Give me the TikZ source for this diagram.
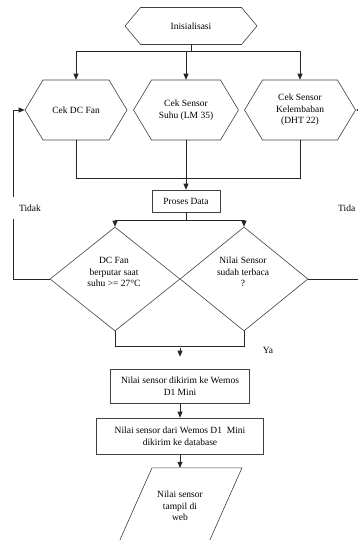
\documentclass[tikz,border=0pt]{standalone}
\usepackage{fontspec}
\setmainfont{Liberation Serif}
\usetikzlibrary{calc}
\usetikzlibrary{arrows.meta}
\usetikzlibrary{shapes.symbols, shapes.geometric}

\begin{document}
\begin{tikzpicture}[x=1pt, y=-1pt, font=\fontsize{9.5}{11.5}\selectfont,
  hexa/.style={signal, signal to=east and west, draw=black!75, line width=0.6pt, inner sep=0pt, align=center},
  proc/.style={rectangle, draw=black!75, line width=0.6pt, inner sep=0pt, align=center},
  decision/.style={diamond, draw=black!75, line width=0.6pt, inner sep=0pt},
  box/.style={draw=black!75, line width=0.6pt},
  lbl/.style={fill=white, inner sep=0pt},
  line/.style={line width=0.8pt, black!85},
  arrow/.style={-{Triangle[length=6pt,width=5pt]}}]
\useasboundingbox (0,0) rectangle (358,540);
\clip (0,0) rectangle (358,540);

\node[hexa, signal pointer angle=100, minimum width=132pt, minimum height=37pt] (init) at (191,26) {Inisialisasi};

\node[hexa, signal pointer angle=118, minimum width=102pt, minimum height=60pt] (fan) at (76,110) {Cek DC Fan};
\node[hexa, signal pointer angle=118, minimum width=105pt, minimum height=60pt] (lm) at (186,110) {Cek Sensor\\Suhu (LM 35)};
\node[hexa, signal pointer angle=118, minimum width=111pt, minimum height=60pt] (dht) at (300,110) {Cek Sensor\\Kelembaban\\(DHT 22)};

\node[proc, minimum width=68pt, minimum height=22pt] (proses) at (186,201) {Proses Data};

\node[decision, minimum width=130pt, minimum height=104pt] (fancek) at (115,279) {};
\node[align=center, inner sep=0pt] (fancektxt) at (114,272) {DC Fan\\berputar saat\\suhu >= 27°C};
\node[decision, minimum width=128pt, minimum height=104pt] (sensorcek) at (244,279) {};
\node[align=center, inner sep=0pt] (sensorcektxt) at (243,272) {Nilai Sensor\\sudah terbaca\\?};

\node[proc, minimum width=139pt, minimum height=34pt] (kirim) at (180,386) {Nilai sensor dikirim ke Wemos\\D1 Mini};
\node[proc, minimum width=167pt, minimum height=36pt] (database) at (180,436) {Nilai sensor dari Wemos D1~ Mini\\dikirim ke database};

\node[align=center, minimum height=76pt, inner sep=0pt] (web) at (180,506) {Nilai sensor\\tampil di\\web};
\draw[box] ($(web.north)+(-28,0)$) -- ($(web.north)+(62,0)$) -- ($(web.south)+(28,0)$) -- ($(web.south)+(-62,0)$) -- cycle;

% inisialisasi ke sensor
\draw[line, arrow] (init.south) -- ++(0,7) -| (fan.north);
\draw[line, arrow] (init.south) -- ++(0,7) -| (lm.north);
\draw[line, arrow] (init.south) -- ++(0,7) -| (dht.north);

\coordinate (gabung) at (186,178);
\draw[line] (fan.south) |- (gabung);
\draw[line] (dht.south) |- (gabung);
\draw[line, arrow] (lm.south) -- (proses.north);

\draw[line, arrow] (proses.south) -- ++(0,8) -| (fancek.north);
\draw[line, arrow] (proses.south) -- ++(0,8) -| (sensorcek.north);

% kembali (tidak)
\draw[line, arrow] (fancek.west) -- ++(-36,0) |- (fan.west);
\draw[line, arrow] (sensorcek.east) -- ++(60,0) |- (dht.east);

\coordinate (temu) at (180,346);
\draw[line] (fancek.south) |- (temu);
\draw[line] (sensorcek.south) |- (temu);
\draw[line, arrow, shorten <=2pt, shorten >=12pt] (temu) -- (kirim.north);
\draw[line, arrow] (kirim.south) -- (database.north);
\draw[line, arrow] (database.south) -- (web.north);

\node[lbl, minimum width=38pt, minimum height=22pt] (tidakkiri) at (30,208) {Tidak};
\node[lbl, anchor=west] (tidakkanan) at (338,208) {Tida};
\node (ya) at (268,350) {Ya};
\end{tikzpicture}
\end{document}
